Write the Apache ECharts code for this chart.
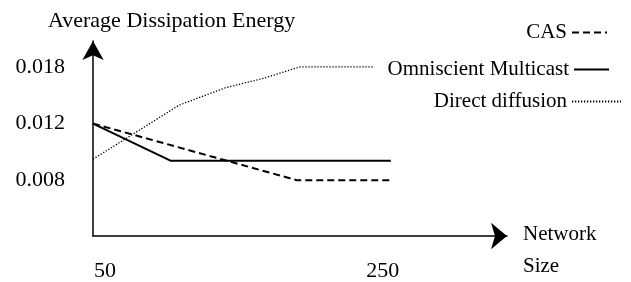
<!DOCTYPE html>
<html><head><meta charset="utf-8">
<script src="https://cdn.jsdelivr.net/npm/echarts@6/dist/echarts.min.js"></script>
<style>html,body{margin:0;padding:0;background:#fff}#c{width:631px;height:282px}</style>
</head><body><div id="c"></div>
<script>
var yTickLabels = [0.008, 0.012, 0.018];
var xTickLabels = [50, 250];
var casData = [[50, 0.012], [187, 0.008], [250, 0.008]];
var omniData = [[50, 0.012], [102, 0.0092], [250, 0.0092]];
var directData = [[50, 0.0093], [108, 0.0137], [139, 0.0155], [165, 0.0166], [189, 0.018], [239, 0.018]];
var seriesNames = ['CAS', 'Omniscient Multicast', 'Direct diffusion'];
var yName = 'Average Dissipation Energy';
var xName = 'Network\nSize';

var FONT = "'Liberation Serif', 'Times New Roman', Times, serif";
var chart = echarts.init(document.getElementById('c'), null, {renderer: 'canvas'});
function legendAt(name, right, top, w) {
  return {
    data: [name], right: right, top: top, orient: 'horizontal', align: 'right',
    padding: 0, itemWidth: w, itemHeight: 4, itemGap: 0, selectedMode: false,
    itemStyle: {opacity: 0},
    textStyle: {fontFamily: FONT, fontSize: 21, color: '#000'}
  };
}
chart.setOption({
  animation: false,
  title: {text: yName, left: 48, top: 10, padding: 0,
    textStyle: {fontFamily: FONT, fontSize: 22, fontWeight: 'normal', color: '#000'}},
  legend: [
    legendAt(seriesNames[0], 23, 22, 35),
    legendAt(seriesNames[1], 21, 59, 35),
    legendAt(seriesNames[2], 9, 91, 49)
  ],
  grid: {left: 93, right: 124, top: 41, bottom: 45, containLabel: false},
  xAxis: {
    type: 'value', min: 50, max: 328,
    name: xName, nameLocation: 'end', nameGap: 16, nameMoveOverlap: false,
    nameTextStyle: {fontFamily: FONT, fontSize: 21, color: '#000', align: 'left', verticalAlign: 'top', lineHeight: 32, padding: [-18, 0, 0, 0]},
    axisLine: {show: true, symbol: ['none', 'arrow'], symbolSize: [20, 16], lineStyle: {color: '#000', width: 1.5}},
    axisTick: {show: false},
    splitLine: {show: false},
    axisLabel: {customValues: xTickLabels, margin: 24, fontFamily: FONT, fontSize: 22, color: '#000',
      formatter: function (v) { return v === 50 ? '{l|' + v + '}' : '{r|' + v + '}'; },
      rich: {l: {padding: [0, 0, 0, 24], fontFamily: FONT, fontSize: 22, color: '#000'},
             r: {padding: [0, 16, 0, 0], fontFamily: FONT, fontSize: 22, color: '#000'}}}
  },
  yAxis: {
    type: 'log', logBase: 10, min: 0.00537, max: 0.02165,
    axisLine: {show: true, symbol: ['none', 'arrow'], symbolSize: [16, 19], lineStyle: {color: '#000', width: 1.5}},
    axisTick: {show: false},
    splitLine: {show: false},
    minorSplitLine: {show: false},
    axisLabel: {customValues: yTickLabels, margin: 28, fontFamily: FONT, fontSize: 22, color: '#000',
      formatter: function (v) { return v.toFixed(3); }}
  },
  series: [
    {name: seriesNames[0], type: 'line', data: casData, symbol: 'none', color: '#000',
      lineStyle: {color: '#000', width: 2, type: [7, 4]}},
    {name: seriesNames[1], type: 'line', data: omniData, symbol: 'none', color: '#000',
      lineStyle: {color: '#000', width: 2, type: 'solid'}},
    {name: seriesNames[2], type: 'line', data: directData, symbol: 'none', color: '#000',
      lineStyle: {color: '#000', width: 1.3, type: [1.3, 1.7]}}
  ]
});
</script></body></html>
